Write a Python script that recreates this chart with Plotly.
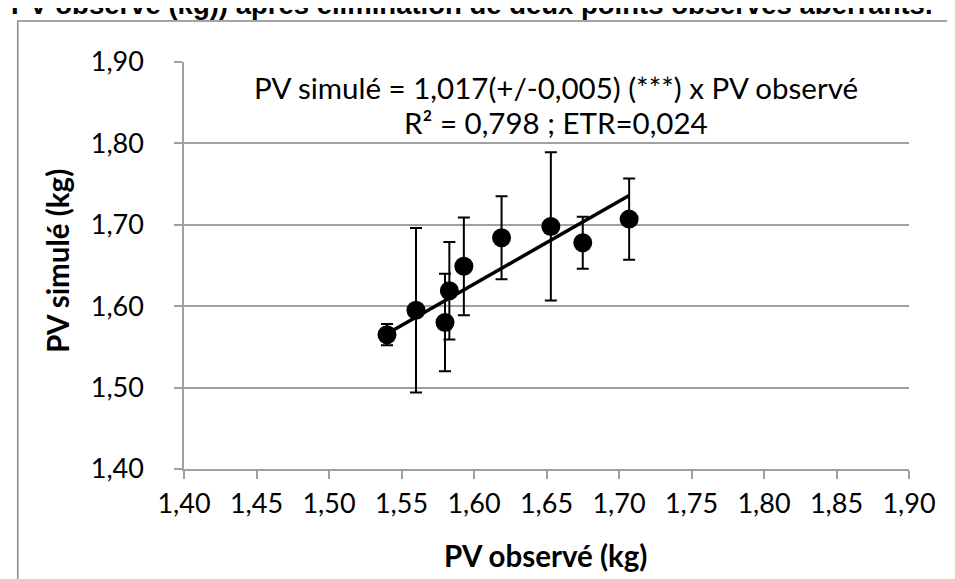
import plotly.graph_objects as go

# Data
pv_observe = [1.540, 1.560, 1.580, 1.583, 1.593, 1.619, 1.653, 1.675, 1.707]
pv_simule = [1.565, 1.595, 1.580, 1.619, 1.649, 1.684, 1.698, 1.678, 1.707]
erreur = [0.013, 0.101, 0.060, 0.060, 0.060, 0.051, 0.091, 0.032, 0.050]
pente = 1.017

titre = "PV observé (kg)) après élimination de deux points observés aberrants."
equation_l1 = "PV simulé = 1,017(+/-0,005) (***) x PV observé"
equation_l2 = "R² = 0,798 ; ETR=0,024"
x_titre = "PV observé (kg)"
y_titre = "PV simulé (kg)"

FONT = "Lato"
GRID = "#A0A0A0"

fig = go.Figure()

x_line = [min(pv_observe), max(pv_observe)]
y_line = [pente * v for v in x_line]
fig.add_trace(go.Scatter(x=x_line, y=y_line, mode="lines",
                         line=dict(color="black", width=3.5), showlegend=False,
                         hoverinfo="skip"))

fig.add_trace(go.Scatter(
    x=pv_observe, y=pv_simule, mode="markers",
    marker=dict(color="black", size=19),
    error_y=dict(type="data", array=erreur, visible=True, color="black",
                 thickness=2, width=6),
    showlegend=False))

# plot area: x 175.5 -> 901.5, y 54 -> 460.7
L, R, T, B = 175.5, 955 - 901.5, 54, 579 - 460.7
pw, ph = 955 - L - R, 579 - T - B

def px(xp):
    return (xp - L) / pw

def py(yp):
    return (579 - B - yp) / ph

fig.update_layout(
    width=955, height=579,
    margin=dict(l=L, r=R, t=T, b=B, autoexpand=False),
    paper_bgcolor="white", plot_bgcolor="white",
    separators=", ",
    font=dict(family=FONT, color="black", size=27),
    xaxis=dict(range=[1.40, 1.90], dtick=0.05, tick0=1.40, tickformat=".2f",
               showgrid=False, zeroline=False, showline=True,
               linecolor=GRID, linewidth=1.5, ticks="outside", ticklen=8,
               tickcolor=GRID, tickwidth=1.5, ticklabelstandoff=2,
               tickfont=dict(family=FONT, size=27, color="black"),
               title=dict(text="")),
    yaxis=dict(range=[1.40, 1.90], dtick=0.10, tick0=1.40, tickformat=".2f",
               showgrid=True, gridcolor=GRID, gridwidth=1.5, zeroline=False,
               showline=True, linecolor=GRID, linewidth=1.5,
               ticks="outside", ticklen=8, tickcolor=GRID, tickwidth=1.5,
               ticklabelstandoff=25,
               tickfont=dict(family=FONT, size=27, color="black"),
               title=dict(text="")),
    shapes=[dict(type="rect", xref="paper", yref="paper",
                 x0=px(9), x1=px(947), y0=py(620), y1=py(13),
                 line=dict(color="#888888", width=1.5),
                 fillcolor="rgba(0,0,0,0)", layer="below")],
    annotations=[
        dict(text="<b>" + titre + "</b>", xref="paper", yref="paper",
             x=px(928), y=py(14), xanchor="right", yanchor="bottom",
             showarrow=False,
             font=dict(family="Liberation Sans", size=27.5, color="black")),
        dict(text="<b>" + x_titre + "</b>", xref="paper", yref="paper",
             x=px(537), y=py(547), xanchor="center", yanchor="middle",
             showarrow=False, font=dict(family=FONT, size=29.5, color="black")),
        dict(text="<b>" + y_titre + "</b>", xref="paper", yref="paper",
             x=px(48.5), y=py(252.5), xanchor="center", yanchor="middle",
             textangle=-90, showarrow=False,
             font=dict(family=FONT, size=29.5, color="black")),
        dict(text=equation_l1, xref="paper", yref="paper",
             x=px(548), y=py(79), xanchor="center", yanchor="middle",
             showarrow=False, font=dict(family=FONT, size=29.5, color="black")),
        dict(text=equation_l2, xref="paper", yref="paper",
             x=px(548), y=py(114), xanchor="center", yanchor="middle",
             showarrow=False, font=dict(family=FONT, size=29.5, color="black")),
    ],
)

fig.write_html("out.html")
